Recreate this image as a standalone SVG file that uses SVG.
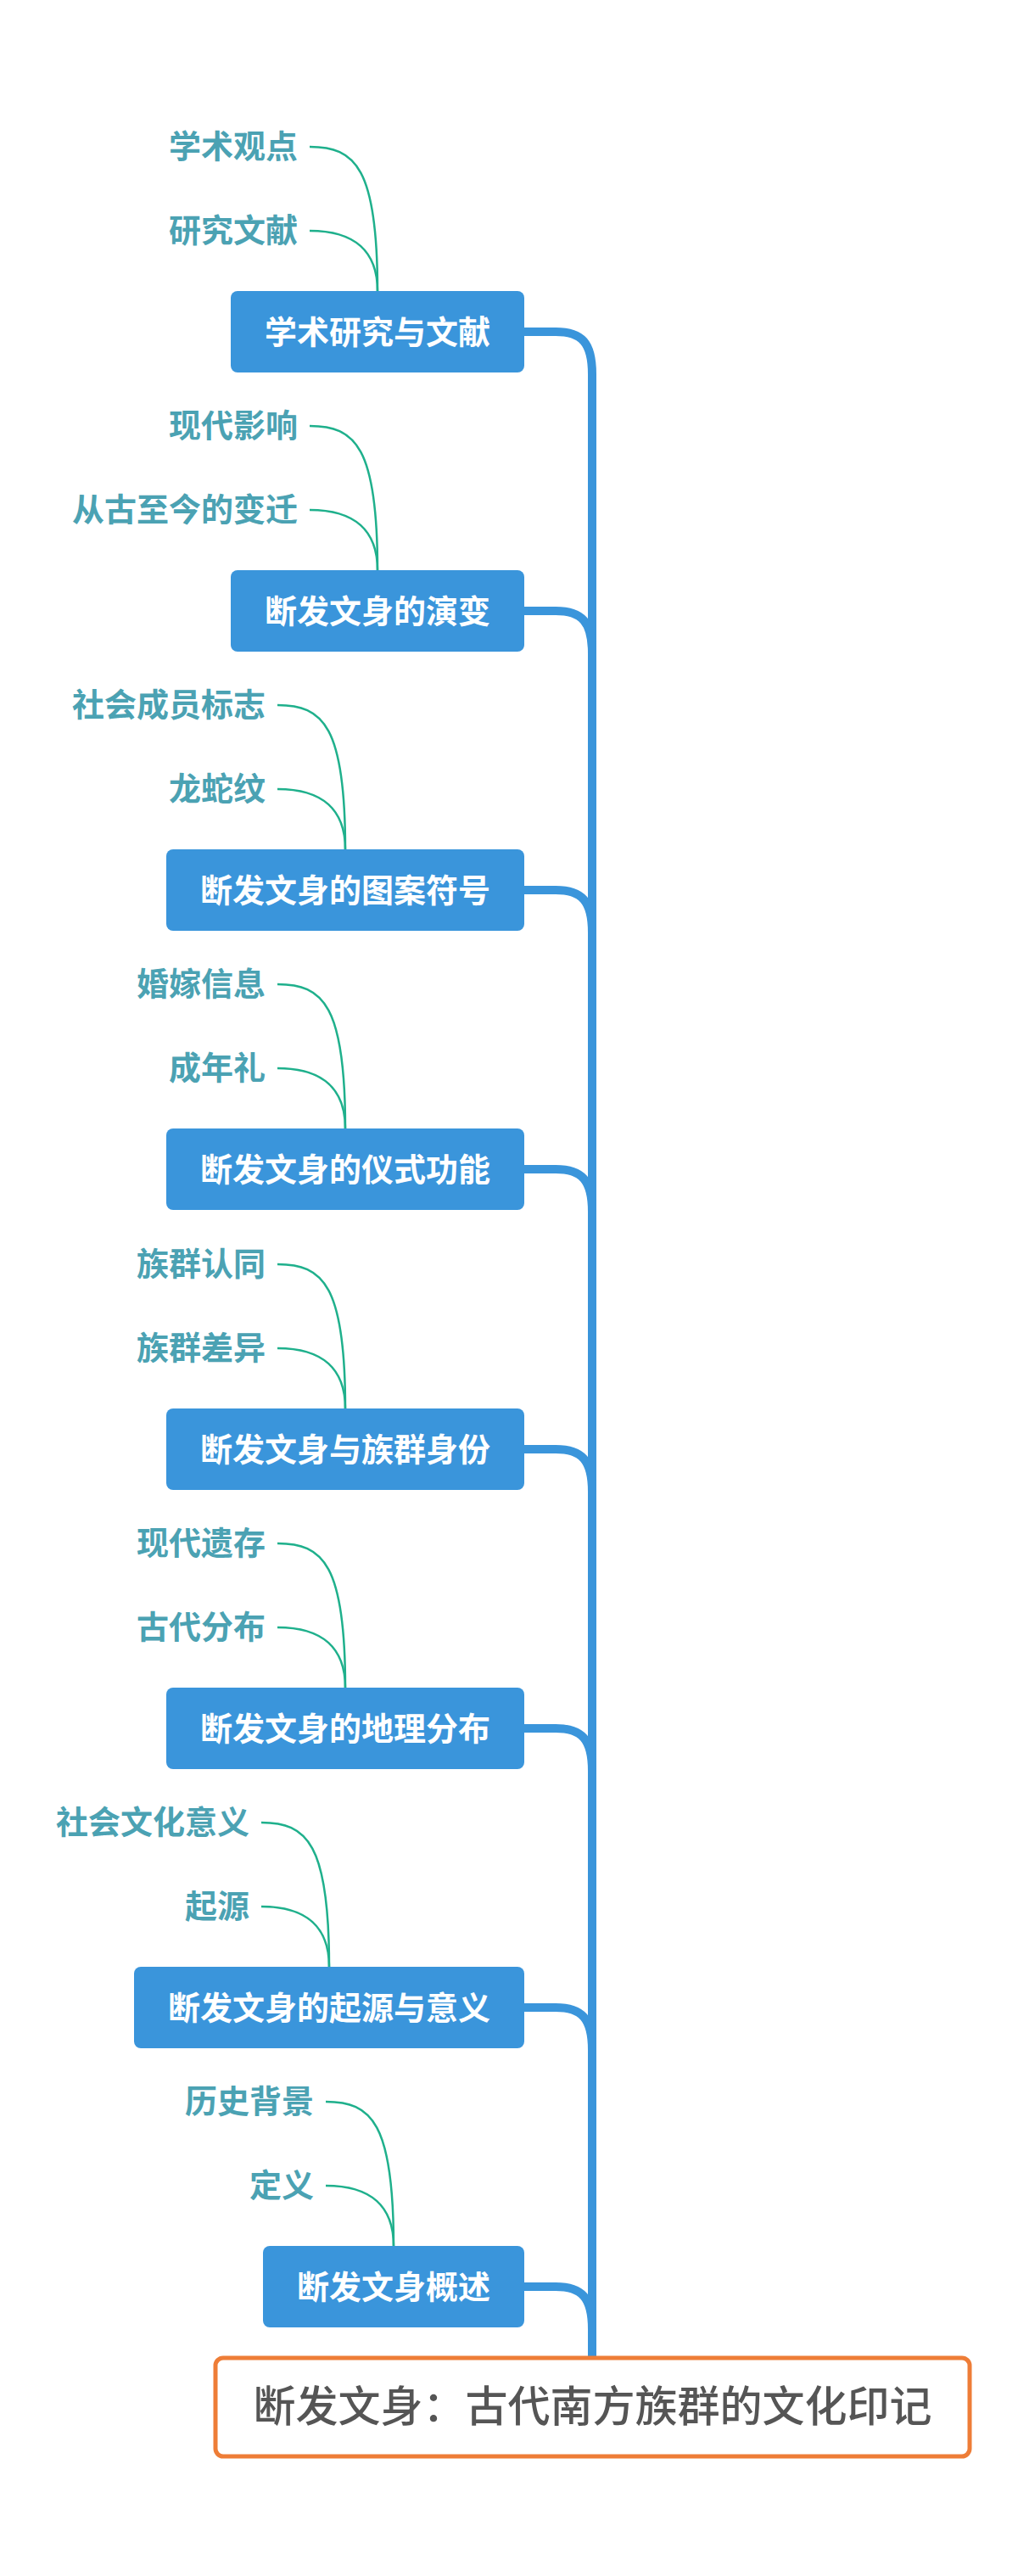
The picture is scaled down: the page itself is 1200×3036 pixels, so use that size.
<svg xmlns="http://www.w3.org/2000/svg" width="1200" height="3036" viewBox="0 0 1200 3036">
<style>
.box{fill:#3a95db;}
.bt{font-family:"Noto Sans CJK SC",sans-serif;font-size:38px;font-weight:bold;fill:#ffffff;text-anchor:middle;}
.ct{font-family:"Noto Sans CJK SC",sans-serif;font-size:38px;font-weight:bold;fill:#4ba2b3;text-anchor:end;}
.br{fill:none;stroke:#3a95db;stroke-width:10;}
.cl{fill:none;stroke:#1fb08c;stroke-width:2.5;}
.root{fill:#ffffff;stroke:#ee7d37;stroke-width:5;}
.rt{font-family:"Noto Sans CJK SC",sans-serif;font-size:50px;font-weight:500;fill:#555555;text-anchor:middle;}
</style>
<rect width="1200" height="3036" fill="#ffffff"/>
<g id="connectors">
<path class="br" d="M618,391 L655,391 C686,391 698,404 698,441 L698,2780"/>
<path class="br" d="M618,720 L655,720 C686,720 698,733 698,770 L698,2780"/>
<path class="br" d="M618,1049 L655,1049 C686,1049 698,1062 698,1099 L698,2780"/>
<path class="br" d="M618,1378 L655,1378 C686,1378 698,1391 698,1428 L698,2780"/>
<path class="br" d="M618,1708 L655,1708 C686,1708 698,1721 698,1758 L698,2780"/>
<path class="br" d="M618,2037 L655,2037 C686,2037 698,2050 698,2087 L698,2780"/>
<path class="br" d="M618,2366 L655,2366 C686,2366 698,2379 698,2416 L698,2780"/>
<path class="br" d="M618,2695 L655,2695 C686,2695 698,2708 698,2745 L698,2780"/>
<path class="cl" d="M365,173 C419,173 445,198 445,343"/>
<path class="cl" d="M365,272 C419,272 445,297 445,343"/>
<path class="cl" d="M365,502 C419,502 445,527 445,672"/>
<path class="cl" d="M365,601 C419,601 445,626 445,672"/>
<path class="cl" d="M327,831 C381,831 407,856 407,1001"/>
<path class="cl" d="M327,930 C381,930 407,955 407,1001"/>
<path class="cl" d="M327,1160 C381,1160 407,1185 407,1330"/>
<path class="cl" d="M327,1259 C381,1259 407,1284 407,1330"/>
<path class="cl" d="M327,1490 C381,1490 407,1515 407,1660"/>
<path class="cl" d="M327,1589 C381,1589 407,1614 407,1660"/>
<path class="cl" d="M327,1819 C381,1819 407,1844 407,1989"/>
<path class="cl" d="M327,1918 C381,1918 407,1943 407,1989"/>
<path class="cl" d="M308,2148 C362,2148 388,2173 388,2318"/>
<path class="cl" d="M308,2247 C362,2247 388,2272 388,2318"/>
<path class="cl" d="M384,2477 C438,2477 464,2502 464,2647"/>
<path class="cl" d="M384,2576 C438,2576 464,2601 464,2647"/>
</g>
<g id="root">
<rect class="root" x="254" y="2779" width="889" height="116" rx="9"/>
<text class="rt" x="698.5" y="2854">断发文身：古代南方族群的文化印记</text>
</g>
<g id="b1">
<rect class="box" x="272" y="343" width="346" height="96" rx="8"/>
<text class="bt" x="445" y="405">学术研究与文献</text>
</g>
<g id="b1c1"><text class="ct" x="351" y="186">学术观点</text></g>
<g id="b1c2"><text class="ct" x="351" y="285">研究文献</text></g>
<g id="b2">
<rect class="box" x="272" y="672" width="346" height="96" rx="8"/>
<text class="bt" x="445" y="734">断发文身的演变</text>
</g>
<g id="b2c1"><text class="ct" x="351" y="515">现代影响</text></g>
<g id="b2c2"><text class="ct" x="351" y="614">从古至今的变迁</text></g>
<g id="b3">
<rect class="box" x="196" y="1001" width="422" height="96" rx="8"/>
<text class="bt" x="407" y="1063">断发文身的图案符号</text>
</g>
<g id="b3c1"><text class="ct" x="313" y="844">社会成员标志</text></g>
<g id="b3c2"><text class="ct" x="313" y="943">龙蛇纹</text></g>
<g id="b4">
<rect class="box" x="196" y="1330" width="422" height="96" rx="8"/>
<text class="bt" x="407" y="1392">断发文身的仪式功能</text>
</g>
<g id="b4c1"><text class="ct" x="313" y="1173">婚嫁信息</text></g>
<g id="b4c2"><text class="ct" x="313" y="1272">成年礼</text></g>
<g id="b5">
<rect class="box" x="196" y="1660" width="422" height="96" rx="8"/>
<text class="bt" x="407" y="1722">断发文身与族群身份</text>
</g>
<g id="b5c1"><text class="ct" x="313" y="1503">族群认同</text></g>
<g id="b5c2"><text class="ct" x="313" y="1602">族群差异</text></g>
<g id="b6">
<rect class="box" x="196" y="1989" width="422" height="96" rx="8"/>
<text class="bt" x="407" y="2051">断发文身的地理分布</text>
</g>
<g id="b6c1"><text class="ct" x="313" y="1832">现代遗存</text></g>
<g id="b6c2"><text class="ct" x="313" y="1931">古代分布</text></g>
<g id="b7">
<rect class="box" x="158" y="2318" width="460" height="96" rx="8"/>
<text class="bt" x="388" y="2380">断发文身的起源与意义</text>
</g>
<g id="b7c1"><text class="ct" x="294" y="2161">社会文化意义</text></g>
<g id="b7c2"><text class="ct" x="294" y="2260">起源</text></g>
<g id="b8">
<rect class="box" x="310" y="2647" width="308" height="96" rx="8"/>
<text class="bt" x="464" y="2709">断发文身概述</text>
</g>
<g id="b8c1"><text class="ct" x="370" y="2490">历史背景</text></g>
<g id="b8c2"><text class="ct" x="370" y="2589">定义</text></g>
</svg>
